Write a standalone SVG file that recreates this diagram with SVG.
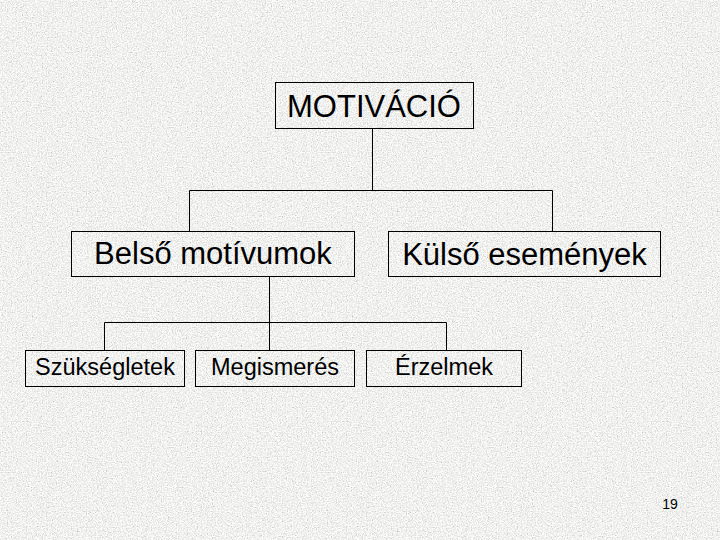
<svg xmlns="http://www.w3.org/2000/svg" width="720" height="540" viewBox="0 0 720 540">
  <defs>
    <filter id="granite" x="0" y="0" width="100%" height="100%" filterUnits="userSpaceOnUse">
      <feTurbulence type="fractalNoise" baseFrequency="0.8" numOctaves="3" seed="7" result="n"/>
      <feColorMatrix in="n" type="matrix" values="0.45 0.45 0.45 0 0.2  0.45 0.45 0.45 0 0.2  0.45 0.45 0.45 0 0.19  0 0 0 0 1"/>
    </filter>
  </defs>
  <style>
    .box { fill: none; stroke: #000; stroke-width: 1; }
    .conn { fill: none; stroke: #000; stroke-width: 1; }
    .big { font-family: "Liberation Sans", Arial, sans-serif; font-size: 31px; fill: #000; text-anchor: middle; }
    .small { font-family: "Liberation Sans", Arial, sans-serif; font-size: 23.5px; fill: #000; text-anchor: middle; }
    .num { font-family: "Liberation Sans", Arial, sans-serif; font-size: 14px; fill: #000; text-anchor: middle; }
  </style>
  <rect x="0" y="0" width="720" height="540" fill="#dedede"/>
  <rect x="0" y="0" width="720" height="540" filter="url(#granite)"/>

  <g id="connectors">
    <path class="conn" d="M372.5 128.5 V190.5 M189.5 190.5 H552.5 M189.5 190.5 V231.5 M552.5 190.5 V231.5"/>
    <path class="conn" d="M269.5 276.5 V350.5 M104.5 322.5 H446.5 M104.5 322.5 V350.5 M446.5 322.5 V350.5"/>
  </g>

  <g id="motivacio">
    <rect class="box" x="275.5" y="82.5" width="198" height="46"/>
    <text class="big" x="374" y="117">MOTIVÁCIÓ</text>
  </g>
  <g id="belso">
    <rect class="box" x="71.5" y="231.5" width="283" height="45"/>
    <text class="big" x="213" y="264">Belső motívumok</text>
  </g>
  <g id="kulso">
    <rect class="box" x="388.5" y="231.5" width="272" height="45"/>
    <text class="big" x="524.5" y="265">Külső események</text>
  </g>
  <g id="szuksegletek">
    <rect class="box" x="25.5" y="350.5" width="159" height="36"/>
    <text class="small" x="105" y="375">Szükségletek</text>
  </g>
  <g id="megismeres">
    <rect class="box" x="195.5" y="350.5" width="159" height="36"/>
    <text class="small" x="275" y="375">Megismerés</text>
  </g>
  <g id="erzelmek">
    <rect class="box" x="366.5" y="350.5" width="155" height="36"/>
    <text class="small" x="444" y="375">Érzelmek</text>
  </g>
  <text class="num" x="670" y="509">19</text>
</svg>
